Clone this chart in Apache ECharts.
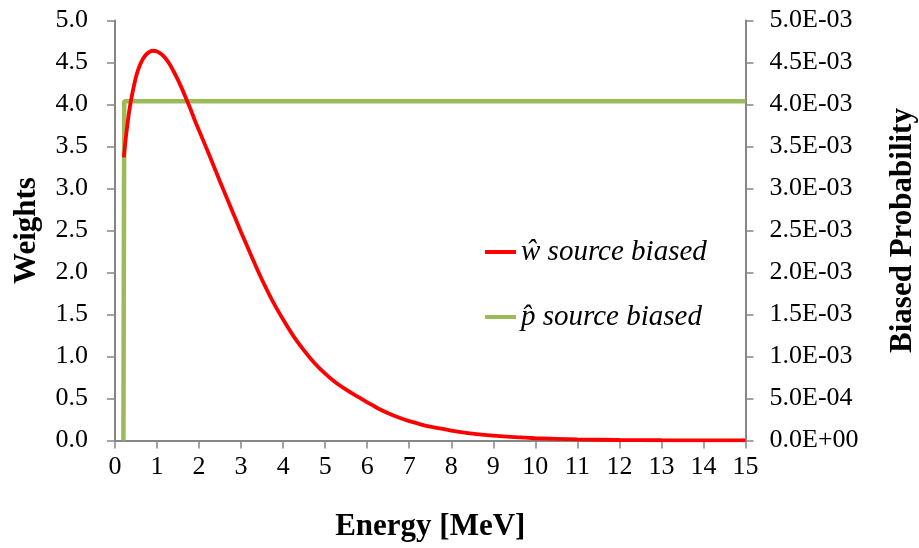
<!DOCTYPE html>
<html>
<head>
<meta charset="utf-8">
<script src="https://cdn.jsdelivr.net/npm/echarts@6/dist/echarts.min.js"></script>
<style>
  html, body { margin: 0; padding: 0; background: #ffffff; }
  #chart { width: 919px; height: 548px; }
</style>
</head>
<body>
<div id="chart"></div>
<script>
// Energy grid (MeV) and source weights for the biased source
const energies = [0.21, 0.25, 0.3, 0.35, 0.4, 0.5, 0.6, 0.7, 0.8, 0.9, 1.0, 1.1, 1.2, 1.3, 1.4, 1.5, 1.6, 1.7, 1.8, 1.9,
  2.0, 2.25, 2.5, 2.75, 3.0, 3.25, 3.5, 3.75, 4.0, 4.25, 4.5, 4.75, 5.0, 5.25, 5.5, 5.75, 6.0, 6.25, 6.5, 6.75,
  7.0, 7.5, 8.0, 8.5, 9.0, 9.5, 10, 11, 12, 13, 14, 15];
const weights = [3.37, 3.57, 3.78, 3.96, 4.10, 4.33, 4.48, 4.57, 4.62, 4.64, 4.63, 4.60, 4.55, 4.48, 4.39, 4.29, 4.18, 4.06, 3.94, 3.81,
  3.69, 3.39, 3.08, 2.78, 2.48, 2.19, 1.91, 1.66, 1.44, 1.24, 1.07, 0.92, 0.796, 0.69, 0.605, 0.527, 0.455, 0.384, 0.324, 0.273,
  0.231, 0.164, 0.119, 0.082, 0.057, 0.039, 0.027, 0.013, 0.006, 0.003, 0.0013, 0.0006];

// Biased (uniform) probability per energy bin
const probEnergies = [0.2, 0.22, 15];
const probValues = [0, 0.00404, 0.00404];

const seriesNames = ['\u0175 source biased', 'p\u0302 source biased'];
const axisTitles = { x: 'Energy [MeV]', left: 'Weights', right: 'Biased Probability' };

const weightData = energies.map((e, i) => [e, weights[i]]);
const probData = probEnergies.map((e, i) => [e, probValues[i]]);

// Scientific tick labels such as 5.0E-03 / 0.0E+00
function sciLabel(v) {
  if (v === 0) return '0.0E+00';
  const s = v.toExponential(1);
  const [m, ex] = s.split('e');
  const n = parseInt(ex, 10);
  const sign = n < 0 ? '-' : '+';
  return m + 'E' + sign + String(Math.abs(n)).padStart(2, '0');
}

const FONT = '"Liberation Serif", "Times New Roman", serif';
const AXIS_COLOR = '#868686';
const TICK_FONT = 26;
const TITLE_FONT = 31;

const chart = echarts.init(document.getElementById('chart'), null, { renderer: 'canvas' });
chart.setOption({
  animation: false,
  backgroundColor: '#ffffff',
  textStyle: { fontFamily: FONT },
  grid: { left: 115, right: 173.5, top: 20.5, bottom: 107.5, containLabel: false, outerBoundsMode: 'none' },
  legend: {
    orient: 'vertical',
    left: 480,
    top: 232,
    itemGap: 35,
    icon: 'rect',
    itemWidth: 31,
    itemHeight: 4,
    textStyle: { fontFamily: FONT, fontSize: 29, fontStyle: 'italic', color: '#000', lineHeight: 30 },
    data: seriesNames
  },
  xAxis: {
    type: 'value',
    min: 0, max: 15, interval: 1,
    name: axisTitles.x,
    nameLocation: 'middle',
    nameGap: 71,
    nameTextStyle: { fontFamily: FONT, fontSize: TITLE_FONT, fontWeight: 'bold', color: '#000' },
    axisLine: { lineStyle: { color: AXIS_COLOR, width: 2 } },
    axisTick: { show: true, inside: false, length: 8, lineStyle: { color: AXIS_COLOR, width: 1.5 } },
    axisLabel: { fontFamily: FONT, fontSize: TICK_FONT, color: '#000', margin: 14 },
    splitLine: { show: false }
  },
  yAxis: [
    {
      type: 'value',
      position: 'left',
      min: 0, max: 5, interval: 0.5,
      name: axisTitles.left,
      nameLocation: 'middle',
      nameGap: 73,
      nameRotate: 90,
      nameTextStyle: { fontFamily: FONT, fontSize: TITLE_FONT, fontWeight: 'bold', color: '#000' },
      axisLine: { show: true, lineStyle: { color: AXIS_COLOR, width: 2 } },
      axisTick: { show: true, length: 8, lineStyle: { color: AXIS_COLOR, width: 1.5 } },
      axisLabel: { fontFamily: FONT, fontSize: TICK_FONT, color: '#000', margin: 27, formatter: v => v.toFixed(1) },
      splitLine: { show: false }
    },
    {
      type: 'value',
      position: 'right',
      min: 0, max: 0.005, interval: 0.0005,
      name: axisTitles.right,
      nameLocation: 'middle',
      nameGap: 142,
      nameRotate: 90,
      nameTextStyle: { fontFamily: FONT, fontSize: TITLE_FONT, fontWeight: 'bold', color: '#000' },
      axisLine: { show: true, lineStyle: { color: AXIS_COLOR, width: 2 } },
      axisTick: { show: true, length: 8, lineStyle: { color: AXIS_COLOR, width: 1.5 } },
      axisLabel: { fontFamily: FONT, fontSize: TICK_FONT, color: '#000', margin: 24, formatter: sciLabel },
      splitLine: { show: false }
    }
  ],
  series: [
    {
      name: seriesNames[0],
      type: 'line',
      yAxisIndex: 0,
      data: weightData,
      smooth: 0.25,
      showSymbol: false,
      symbol: 'none',
      lineStyle: { color: '#ff0000', width: 3.8 },
      itemStyle: { color: '#ff0000' },
      z: 3
    },
    {
      name: seriesNames[1],
      type: 'line',
      yAxisIndex: 1,
      data: probData,
      showSymbol: false,
      symbol: 'none',
      lineStyle: { color: '#9bbb59', width: 4.5 },
      itemStyle: { color: '#9bbb59' },
      z: 2
    }
  ]
});
</script>
</body>
</html>
